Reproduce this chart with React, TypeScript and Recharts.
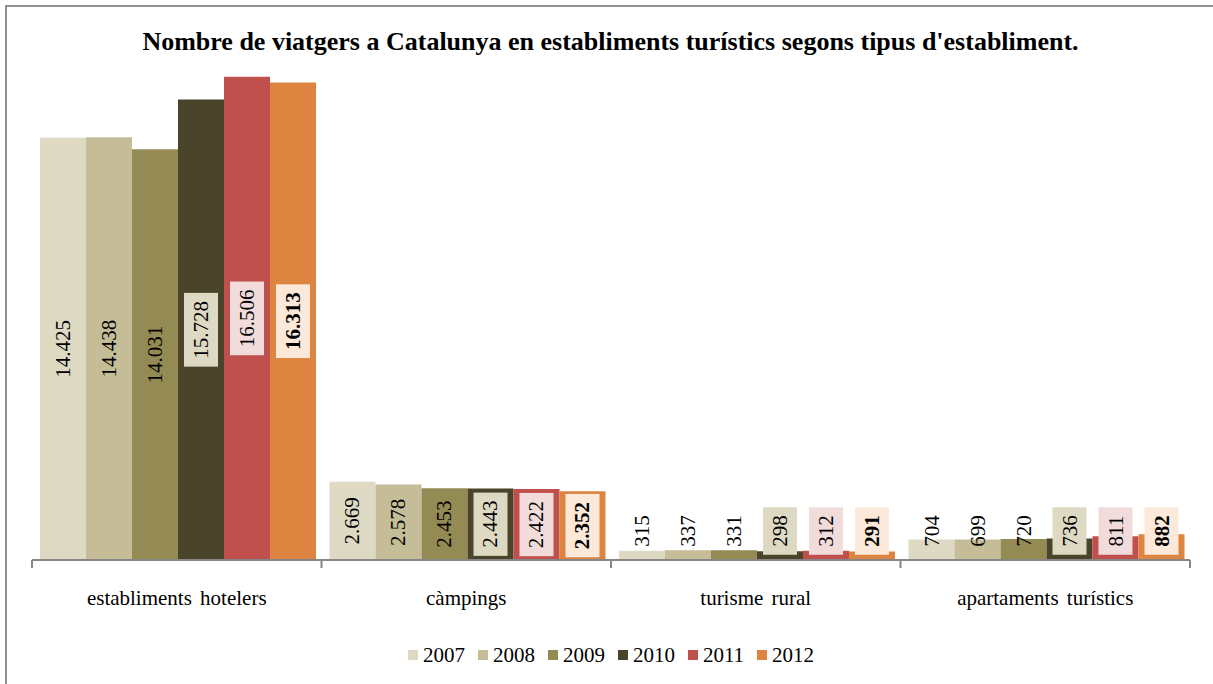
import React from 'react';
import { BarChart, Bar, XAxis, YAxis, LabelList, Legend } from 'recharts';

const categories = ['establiments hotelers', 'càmpings', 'turisme rural', 'apartaments turístics'];
const years = ['2007', '2008', '2009', '2010', '2011', '2012'];
const v2007 = [14425, 2669, 315, 704];
const v2008 = [14438, 2578, 337, 699];
const v2009 = [14031, 2453, 331, 720];
const v2010 = [15728, 2443, 298, 736];
const v2011 = [16506, 2422, 312, 811];
const v2012 = [16313, 2352, 291, 882];
const seriesValues = [v2007, v2008, v2009, v2010, v2011, v2012];

const colors = ['#DDD9C3', '#C4BD97', '#948A54', '#4A452A', '#C0504D', '#DD8441'];
const labelBoxes: (string | null)[] = [null, null, null, '#DDD9C3', '#F2DCDB', '#FDE9D9'];

const W = 1213;
const H = 684;
const MARGIN = { top: 33, right: 23, left: 32, bottom: 14 };
const FONT = '"Liberation Serif", "Times New Roman", serif';
const BAND = (W - MARGIN.left - MARGIN.right) / categories.length;
const LABEL_FS = 21;

const data = categories.map((name, i) => {
  const row: any = { name };
  years.forEach((y, s) => { row['y' + y] = seriesValues[s][i]; });
  return row;
});

// 14425 -> "14.425"
const fmt = (v: number) => String(v).replace(/\B(?=(\d{3})+(?!\d))/g, '.');
const textLen = (s: string, fs: number) =>
  s.split('').reduce((a, c) => a + (c === '.' ? 0.25 : 0.5), 0) * fs;

const makeLabel = (box: string | null, bold: boolean) => (props: any) => {
  const vb = props.viewBox && props.viewBox.width !== undefined ? props.viewBox : props;
  const x = Number(vb.x), y = Number(vb.y), width = Number(vb.width), height = Number(vb.height);
  const cx = x + width / 2;
  const base = y + height;
  // small bars: label sits just above the bar
  const cy = Math.min(y + height / 2, base - 29);
  const s = fmt(Number(props.value));
  const len = textLen(s, LABEL_FS);
  return (
    <g>
      {box && <rect x={cx - 17} y={cy - len / 2 - 8} width={34} height={len + 16} fill={box} />}
      <text
        x={cx}
        y={cy}
        transform={`rotate(-90 ${cx} ${cy})`}
        textAnchor="middle"
        dominantBaseline="central"
        fontSize={LABEL_FS}
        fontWeight={bold ? 'bold' : 'normal'}
        fontFamily={FONT}
        fill="#000"
      >
        {s}
      </text>
    </g>
  );
};

const CategoryTick = (props: any) => {
  const { x, y, payload, index } = props;
  const top = y - 8;
  return (
    <g>
      <line x1={x - BAND / 2} y1={top} x2={x - BAND / 2} y2={top + 8} stroke="#868686" strokeWidth={2} />
      {index === categories.length - 1 && (
        <line x1={x + BAND / 2} y1={top} x2={x + BAND / 2} y2={top + 8} stroke="#868686" strokeWidth={2} />
      )}
      <text x={x} y={y + 30} textAnchor="middle" dominantBaseline="central" fontSize={21} fontFamily={FONT} fill="#000" style={{ wordSpacing: 3 }}>
        {payload.value}
      </text>
    </g>
  );
};

const LegendContent = () => (
  <div style={{ height: 30, display: 'flex', justifyContent: 'center', alignItems: 'center', fontFamily: FONT, fontSize: 21, color: '#000' }}>
    {years.map((y, i) => (
      <span key={y} style={{ display: 'inline-flex', alignItems: 'center', marginRight: i < years.length - 1 ? 13 : 0 }}>
        <span style={{ width: 10, height: 10, background: colors[i], marginRight: 5, display: 'inline-block' }} />
        {y}
      </span>
    ))}
  </div>
);

export default function App() {
  return (
    <div style={{ position: 'absolute', left: 0, top: 0, width: W, height: H, overflow: 'hidden', background: '#fff' }}>
      <div style={{ position: 'absolute', left: 5, top: 5, width: W + 20, height: H + 20, border: '2px solid #8f8f8f' }} />
      <div style={{ position: 'absolute', left: 0, top: 27, width: W + 8, textAlign: 'center', fontFamily: FONT, fontWeight: 'bold', fontSize: 26, lineHeight: '30px', color: '#000' }}>
        Nombre de viatgers a Catalunya en establiments turístics segons tipus d'establiment.
      </div>
      <div style={{ position: 'absolute', left: 0, top: 0 }}>
        <BarChart width={W} height={H} data={data} margin={MARGIN} barCategoryGap={8} barGap={0}>
          <XAxis
            dataKey="name"
            height={80}
            interval={0}
            tickLine={false}
            axisLine={{ stroke: '#868686', strokeWidth: 2 }}
            tick={<CategoryTick />}
          />
          <YAxis hide domain={[0, 18000]} />
          <Legend verticalAlign="bottom" content={<LegendContent />} />
          {years.map((y, i) => (
            <Bar key={y} dataKey={'y' + y} name={y} fill={colors[i]} isAnimationActive={false}>
              <LabelList dataKey={'y' + y} content={makeLabel(labelBoxes[i], i === 5)} />
            </Bar>
          ))}
        </BarChart>
      </div>
    </div>
  );
}
